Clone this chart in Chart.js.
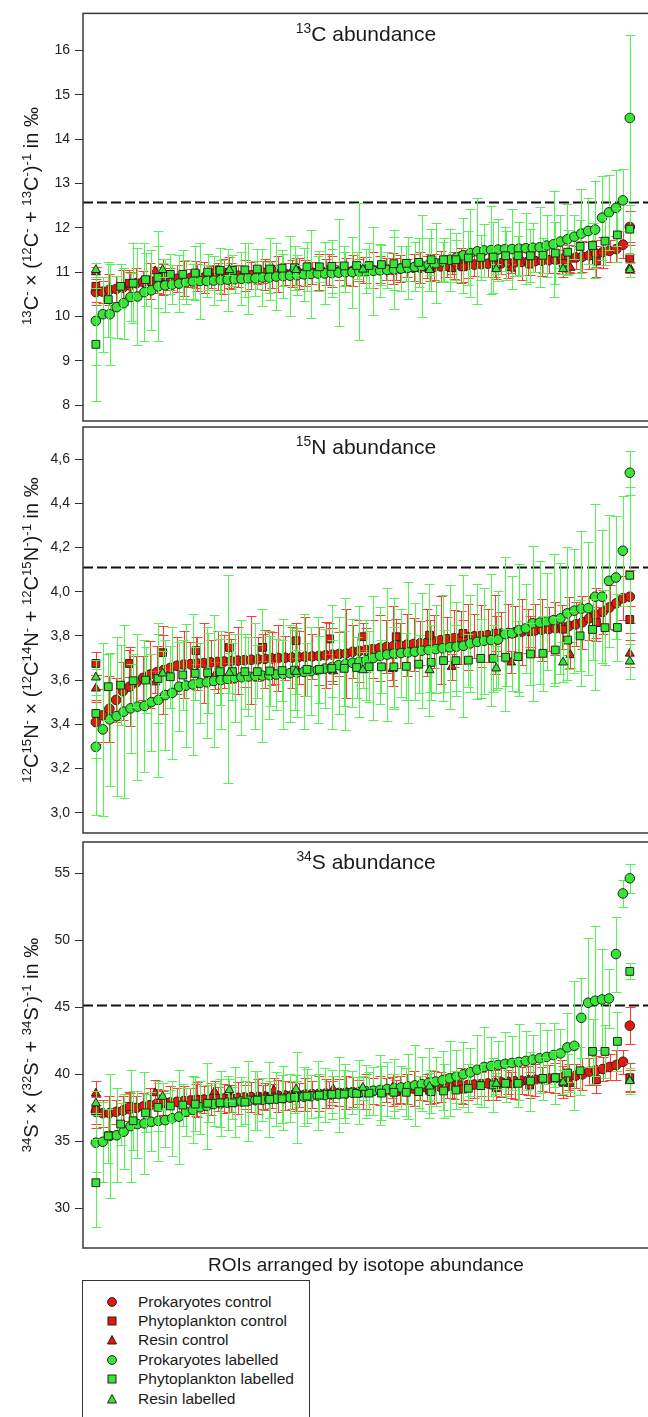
<!DOCTYPE html>
<html>
<head>
<meta charset="utf-8">
<script src="https://cdn.jsdelivr.net/npm/chart.js@4.4.1/dist/chart.umd.min.js"></script>
<style>
  body { margin: 0; background: #fff; }
  #page { position: relative; width: 648px; height: 1417px; overflow: hidden;
          font-family: "Liberation Sans", Arial, sans-serif; color: #1a1a1a; }
  canvas { position: absolute; left: 0; }
  .ptitle { position: absolute; left: 366px; transform: translateX(-50%);
            font-size: 21px; line-height: 24px; white-space: nowrap; }
  .ytitle { position: absolute; left: 31px; font-size: 20px; line-height: 22px; white-space: nowrap;
            transform: translate(-50%, -50%) rotate(-90deg); }
  sup { font-size: 0.66em; position: relative; top: -0.55em; vertical-align: baseline; line-height: 0; }
  #xtitle { position: absolute; left: 366px; top: 1253px; transform: translateX(-50%);
            font-size: 19px; line-height: 24px; white-space: nowrap; }
  #legend { position: absolute; left: 82px; top: 1280px; width: 228px; height: 150px;
            border: 1px solid #333; padding-top: 11px; box-sizing: border-box; }
  .item { display: flex; align-items: center; height: 19.4px; font-size: 15.5px; }
  .item svg { margin-left: 23px; margin-right: 20px; }
</style>
</head>
<body>
<div id="page">
  <canvas id="cC" width="660" height="436" style="top:0px"></canvas>
  <canvas id="cN" width="660" height="436" style="top:412px"></canvas>
  <canvas id="cS" width="660" height="436" style="top:827px"></canvas>

  <div class="ptitle" style="top:22px"><sup>13</sup>C abundance</div>
  <div class="ptitle" style="top:435px"><sup>15</sup>N abundance</div>
  <div class="ptitle" style="top:850px"><sup>34</sup>S abundance</div>

  <div class="ytitle" style="top:216px"><sup>13</sup>C<sup>-</sup> × (<sup>12</sup>C<sup>-</sup> + <sup>13</sup>C<sup>-</sup>)<sup>-1</sup> in ‰</div>
  <div class="ytitle" style="top:630px"><sup>12</sup>C<sup>15</sup>N<sup>-</sup> × (<sup>12</sup>C<sup>14</sup>N<sup>-</sup> + <sup>12</sup>C<sup>15</sup>N<sup>-</sup>)<sup>-1</sup> in ‰</div>
  <div class="ytitle" style="top:1045px"><sup>34</sup>S<sup>-</sup> × (<sup>32</sup>S<sup>-</sup> + <sup>34</sup>S<sup>-</sup>)<sup>-1</sup> in ‰</div>

  <div id="xtitle">ROIs arranged by isotope abundance</div>
  <div id="legend"></div>
</div>

<script>
// ---- data (x = rank of the ROI within its group) ----
const SERIES_LABELS = ["Prokaryotes control", "Phytoplankton control", "Resin control",
                       "Prokaryotes labelled", "Phytoplankton labelled", "Resin labelled"];

// 13C panel
const C_TICKS = [8, 9, 10, 11, 12, 13, 14, 15, 16];
const C_REF = 12.58;
const C_RC = [10.55,10.56,10.6,10.62,10.65,10.7,10.75,10.78,10.8,10.82,
  10.83,10.84,10.85,10.86,10.87,10.88,10.88,10.89,10.9,10.9,
  10.91,10.92,10.92,10.93,10.94,10.94,10.95,10.96,10.96,10.97,
  10.98,10.98,10.99,11.0,11.0,11.01,11.02,11.02,11.03,11.04,
  11.05,11.05,11.06,11.07,11.08,11.08,11.09,11.1,11.1,11.11,
  11.12,11.13,11.14,11.15,11.15,11.16,11.17,11.18,11.19,11.2,
  11.2,11.21,11.22,11.23,11.24,11.25,11.26,11.27,11.28,11.3,
  11.31,11.33,11.35,11.38,11.42,11.45,11.48,11.52,11.62,12.02];
const C_RC_ERR = [0.3,0.25,0.35,0.3,0.4,0.3,0.35,0.25,0.4,0.3,
  0.35,0.25,0.3,0.4,0.2,0.3,0.35,0.25,0.3,0.4,
  0.3,0.25,0.35,0.3,0.2,0.35,0.3,0.4,0.25,0.3,
  0.35,0.3,0.25,0.4,0.3,0.35,0.2,0.3,0.35,0.25,
  0.3,0.4,0.3,0.25,0.35,0.3,0.2,0.3,0.35,0.25,
  0.3,0.35,0.25,0.3,0.4,0.3,0.25,0.35,0.3,0.3,
  0.25,0.35,0.3,0.4,0.3,0.25,0.35,0.3,0.3,0.35,
  0.3,0.25,0.35,0.3,0.3,0.35,0.25,0.3,0.3,0.35];
const C_RS = [10.68,10.75,10.9,10.95,11.0,11.0,11.02,11.05,11.05,11.08,11.1,11.12,11.15,11.18,11.2,11.25,11.32];
const C_RS_ERR = [0.35,0.3,0.4,0.3,0.35,0.25,0.3,0.35,0.3,0.25,0.3,0.35,0.3,0.25,0.3,0.35,0.3];
const C_RT = [11.0,11.02,11.03,11.05,11.05,11.06,11.07,11.08,11.1,11.1];
const C_RT_ERR = [0.12,0.1,0.12,0.1,0.12,0.1,0.12,0.1,0.12,0.12];
const C_GC = [9.9,10.05,10.05,10.21,10.3,10.44,10.45,10.55,10.59,10.68,
  10.7,10.72,10.74,10.77,10.79,10.8,10.8,10.81,10.82,10.83,
  10.84,10.85,10.86,10.86,10.88,10.88,10.9,10.91,10.92,10.93,
  10.95,10.96,10.97,10.97,10.98,10.99,11.0,11.0,11.01,11.02,
  11.03,11.04,11.05,11.06,11.08,11.1,11.12,11.14,11.17,11.2,
  11.24,11.28,11.33,11.38,11.43,11.47,11.49,11.5,11.51,11.52,
  11.52,11.53,11.54,11.55,11.56,11.6,11.63,11.69,11.74,11.8,
  11.87,11.93,11.96,12.23,12.35,12.45,12.62,14.48];
const C_GC_ERR = [1.0,0.85,1.14,0.7,0.8,0.55,1.1,1.1,0.9,1.24,
  0.6,0.45,0.65,0.5,0.4,0.85,0.35,0.55,0.45,0.7,
  0.3,0.6,0.8,0.4,0.65,0.35,0.75,0.5,0.9,0.45,
  0.6,1.0,0.4,0.7,0.55,1.2,0.45,0.8,1.55,0.5,
  1.0,0.6,0.4,0.9,0.5,0.7,0.55,1.15,0.6,0.9,
  0.45,0.7,0.55,0.85,1.0,1.2,0.6,1.0,0.7,0.5,
  0.9,0.6,0.8,0.55,0.9,0.7,1.2,0.6,0.8,0.5,
  1.0,0.75,1.1,0.95,0.85,0.85,0.7,1.87];
const C_GS = [9.37,10.38,10.68,10.75,10.83,10.88,10.95,10.95,10.98,11.0,
  11.04,11.04,11.05,11.07,11.07,11.09,11.1,11.12,11.12,11.13,
  11.14,11.15,11.15,11.17,11.19,11.2,11.22,11.28,11.28,11.28,
  11.32,11.33,11.34,11.37,11.37,11.37,11.38,11.43,11.45,11.58,
  11.6,11.7,11.84,11.97];
const C_GS_ERR = [1.27,0.85,0.5,0.9,0.6,0.7,0.45,0.55,0.6,0.4,
  0.5,0.35,0.6,0.45,0.7,0.4,0.5,0.55,0.35,0.6,
  0.45,0.3,0.5,0.45,0.6,0.4,0.55,0.7,0.5,0.45,
  0.6,0.5,0.8,0.55,0.45,0.6,0.4,0.7,0.5,0.6,
  0.5,0.55,0.6,0.55];
const C_GT = [11.05,11.05,11.05,11.05,11.06,11.05,11.07,11.07,11.05];
const C_GT_ERR = [0.15,0.15,0.12,0.12,0.15,0.12,0.12,0.12,0.15];

// 15N panel
const N_TICKS = [3.0, 3.2, 3.4, 3.6, 3.8, 4.0, 4.2, 4.4, 4.6];
const N_REF = 4.11;
const N_RC = [3.41,3.44,3.47,3.51,3.55,3.57,3.59,3.61,3.625,3.635,
  3.645,3.655,3.665,3.67,3.672,3.675,3.677,3.68,3.682,3.684,
  3.686,3.688,3.69,3.692,3.694,3.696,3.698,3.7,3.701,3.702,
  3.704,3.706,3.707,3.709,3.712,3.715,3.718,3.72,3.728,3.732,
  3.736,3.74,3.745,3.75,3.753,3.756,3.76,3.763,3.766,3.77,
  3.775,3.78,3.785,3.789,3.792,3.795,3.798,3.8,3.803,3.806,
  3.81,3.813,3.816,3.819,3.822,3.825,3.828,3.831,3.834,3.84,
  3.845,3.852,3.862,3.88,3.895,3.909,3.929,3.947,3.97,3.977];
const N_RC_ERR = [0.1,0.12,0.15,0.1,0.13,0.18,0.12,0.1,0.15,0.12,
  0.2,0.1,0.13,0.15,0.1,0.12,0.18,0.1,0.14,0.12,
  0.1,0.15,0.12,0.2,0.1,0.13,0.12,0.15,0.1,0.14,
  0.12,0.18,0.1,0.13,0.15,0.12,0.1,0.2,0.12,0.14,
  0.1,0.13,0.15,0.12,0.18,0.1,0.14,0.12,0.1,0.15,
  0.12,0.2,0.1,0.13,0.12,0.15,0.1,0.14,0.12,0.18,
  0.1,0.13,0.12,0.15,0.1,0.12,0.14,0.1,0.12,0.1,
  0.13,0.1,0.12,0.1,0.12,0.1,0.1,0.12,0.1,0.12];
const N_RS = [3.675,3.675,3.724,3.733,3.748,3.748,3.778,3.786,3.796,3.796,3.803,3.811,3.812,3.82,3.83,3.86,3.874];
const N_RS_ERR = [0.05,0.06,0.08,0.06,0.07,0.06,0.08,0.07,0.06,0.08,0.07,0.06,0.08,0.07,0.06,0.07,0.06];
const N_RT = [3.562,3.59,3.62,3.63,3.64,3.65,3.66,3.68,3.713,3.72];
const N_RT_ERR = [0.06,0.05,0.06,0.05,0.06,0.05,0.06,0.05,0.06,0.06];
const N_GC = [3.298,3.377,3.422,3.437,3.457,3.472,3.48,3.483,3.5,3.51,
  3.532,3.542,3.57,3.575,3.58,3.587,3.59,3.596,3.6,3.605,
  3.61,3.613,3.616,3.618,3.62,3.622,3.625,3.628,3.631,3.634,
  3.637,3.64,3.645,3.652,3.658,3.667,3.673,3.678,3.683,3.69,
  3.7,3.71,3.715,3.72,3.722,3.725,3.728,3.733,3.736,3.74,
  3.744,3.748,3.751,3.755,3.766,3.773,3.778,3.781,3.783,3.808,
  3.811,3.826,3.834,3.857,3.86,3.865,3.871,3.879,3.902,3.914,
  3.923,3.925,3.977,3.977,4.049,4.064,4.185,4.538];
const N_GC_ERR = [0.31,0.39,0.3,0.36,0.39,0.2,0.33,0.3,0.22,0.35,
  0.25,0.3,0.2,0.28,0.32,0.18,0.25,0.3,0.22,0.47,
  0.2,0.26,0.18,0.24,0.3,0.2,0.16,0.25,0.22,0.2,
  0.26,0.2,0.24,0.18,0.28,0.22,0.3,0.2,0.25,0.18,
  0.28,0.22,0.3,0.25,0.2,0.32,0.22,0.26,0.3,0.2,
  0.24,0.28,0.2,0.32,0.22,0.26,0.24,0.3,0.22,0.35,
  0.26,0.3,0.2,0.35,0.28,0.22,0.3,0.25,0.3,0.28,
  0.35,0.3,0.42,0.3,0.3,0.28,0.25,0.1];
const N_GS = [3.449,3.57,3.577,3.597,3.6,3.607,3.615,3.623,3.63,3.633,
  3.638,3.638,3.638,3.638,3.641,3.643,3.645,3.648,3.648,3.653,
  3.653,3.657,3.66,3.66,3.66,3.662,3.672,3.68,3.688,3.688,
  3.69,3.698,3.698,3.703,3.706,3.718,3.721,3.736,3.781,3.8,
  3.829,3.837,3.838,4.074];
const N_GS_ERR = [0.2,0.15,0.18,0.12,0.15,0.2,0.14,0.16,0.12,0.18,
  0.15,0.13,0.17,0.12,0.16,0.14,0.18,0.12,0.15,0.13,
  0.17,0.14,0.16,0.12,0.18,0.15,0.13,0.17,0.14,0.16,
  0.12,0.18,0.15,0.13,0.16,0.14,0.17,0.15,0.13,0.16,
  0.14,0.17,0.15,0.4];
const N_GT = [3.612,3.63,3.633,3.638,3.645,3.645,3.653,3.68,3.685];
const N_GT_ERR = [0.08,0.1,0.09,0.1,0.08,0.1,0.1,0.09,0.08];

// 34S panel
const S_TICKS = [30, 35, 40, 45, 50, 55];
const S_REF = 45.2;
const S_RC = [37.2,37.1,37.1,37.2,37.3,37.4,37.5,37.6,37.7,37.8,
  37.85,37.9,37.95,38.0,38.05,38.1,38.12,38.15,38.18,38.2,
  38.22,38.25,38.28,38.3,38.32,38.35,38.37,38.4,38.42,38.45,
  38.47,38.5,38.52,38.55,38.57,38.6,38.62,38.65,38.67,38.7,
  38.72,38.75,38.78,38.8,38.83,38.86,38.9,38.93,38.96,39.0,
  39.03,39.06,39.1,39.13,39.17,39.2,39.24,39.28,39.32,39.36,
  39.4,39.44,39.48,39.52,39.56,39.6,39.64,39.68,39.72,39.76,
  39.8,39.9,40.0,40.2,40.3,40.4,40.55,40.7,40.94,43.63];
const S_RC_ERR = [1.2,1.0,1.3,0.9,1.1,1.2,0.9,1.0,1.3,1.1,
  0.9,1.2,1.0,1.1,0.9,1.3,1.0,1.2,0.9,1.1,
  1.0,1.2,0.9,1.1,1.3,1.0,0.9,1.2,1.1,1.0,
  0.9,1.2,1.0,1.3,1.1,0.9,1.0,1.2,1.1,0.9,
  1.3,1.0,1.1,0.9,1.2,1.0,1.1,1.3,0.9,1.0,
  1.2,1.1,0.9,1.0,1.3,1.1,1.0,0.9,1.2,1.0,
  1.1,0.9,1.3,1.0,1.1,1.2,0.9,1.0,1.1,1.3,
  1.0,0.9,1.2,1.0,1.1,0.9,1.0,1.1,0.9,1.4];
const S_RS = [37.3,37.6,37.9,38.1,38.2,38.3,38.4,38.5,38.6,38.7,38.8,38.9,39.0,39.2,39.4,39.6,39.75];
const S_RS_ERR = [1.0,1.1,0.9,1.2,1.0,0.9,1.1,1.0,1.2,0.9,1.0,1.1,0.9,1.0,1.2,1.0,1.1];
const S_RT = [38.58,38.6,38.7,38.8,38.9,39.0,39.1,39.2,39.3,39.55];
const S_RT_ERR = [0.9,1.0,0.8,0.9,1.0,0.8,0.9,1.0,0.9,0.8];
const S_GC = [34.9,34.97,35.4,35.45,35.72,36.14,36.29,36.34,36.46,36.53,
  36.58,36.72,36.84,37.21,37.34,37.54,37.64,37.78,37.83,37.88,
  37.93,37.98,38.03,38.07,38.1,38.14,38.18,38.22,38.26,38.3,
  38.33,38.37,38.41,38.45,38.49,38.53,38.58,38.62,38.67,38.72,
  38.78,38.84,38.9,38.96,39.02,39.1,39.18,39.27,39.36,39.46,
  39.56,39.7,39.85,40.0,40.15,40.35,40.55,40.62,40.7,40.78,
  40.85,40.92,41.0,41.1,41.2,41.3,41.44,41.56,42.01,42.13,
  44.22,45.34,45.49,45.59,45.66,48.98,53.5,54.63];
const S_GC_ERR = [2.2,3.0,4.6,3.5,2.8,4.2,2.5,3.8,2.2,3.0,
  2.0,2.8,3.5,1.8,2.5,2.0,3.2,1.6,2.4,2.0,
  2.6,1.8,3.0,2.2,1.6,2.8,2.0,2.4,1.8,3.4,
  2.2,1.6,2.6,2.0,1.8,2.8,2.2,1.6,2.4,2.0,
  1.8,2.6,2.0,2.2,1.6,2.4,3.0,2.0,2.6,1.8,
  2.2,2.8,2.0,2.4,1.8,2.6,3.0,2.2,1.8,2.4,
  2.0,2.8,2.2,1.8,2.6,2.0,2.4,1.8,2.6,4.8,
  3.0,4.8,5.6,3.8,2.2,2.8,1.0,1.1];
const S_GS = [31.91,35.4,36.29,36.54,37.13,37.54,37.64,37.71,37.78,37.84,
  37.88,37.88,37.93,38.08,38.13,38.18,38.28,38.38,38.45,38.5,
  38.53,38.58,38.6,38.6,38.66,38.66,38.71,38.71,38.76,38.83,
  38.96,39.16,39.21,39.33,39.33,39.5,39.7,39.75,40.1,40.27,
  41.71,41.71,42.46,47.68];
const S_GS_ERR = [3.3,2.0,1.6,2.2,1.4,1.8,1.2,1.6,2.0,1.4,
  1.8,1.2,1.6,2.2,1.4,1.8,1.2,2.0,1.6,1.4,
  1.8,1.2,1.6,2.0,1.4,1.8,1.2,1.6,2.0,1.4,
  1.8,1.6,2.0,1.4,1.8,2.2,1.6,2.0,1.4,1.8,
  2.4,2.0,2.2,0.6];
const S_GT = [37.84,38.33,38.83,38.88,39.0,39.1,39.3,39.4,39.5];
const S_GT_ERR = [0.9,1.0,0.8,1.1,0.9,1.0,0.8,0.9,1.0];

// ---- styles ----
const RED = "#e8150f", GREEN = "#35e635", EDGE = "#222222";
const RED_BAR = "#ff3a3a", GREEN_BAR = "#58ef58";
const STYLES = [
  { pointStyle: "circle",   fill: RED,   bar: RED_BAR,   radius: 4.8, order: 6 },
  { pointStyle: "rect",     fill: RED,   bar: RED_BAR,   radius: 5.5, order: 5 },
  { pointStyle: "triangle", fill: RED,   bar: RED_BAR,   radius: 5.2, order: 4 },
  { pointStyle: "circle",   fill: GREEN, bar: GREEN_BAR, radius: 4.8, order: 3 },
  { pointStyle: "rect",     fill: GREEN, bar: GREEN_BAR, radius: 5.5, order: 2 },
  { pointStyle: "triangle", fill: GREEN, bar: GREEN_BAR, radius: 5.2, order: 1 }
];

// rank position of each ROI inside its group, spread over 0..1
function ranked(vals) {
  return vals.map((v, i) => ({ x: i / (vals.length - 1), y: v }));
}

function makeDatasets(groups) {
  return groups.map(([vals, errs], k) => ({
    label: SERIES_LABELS[k],
    data: ranked(vals),
    errors: errs,
    barColor: STYLES[k].bar,
    pointStyle: STYLES[k].pointStyle,
    pointRadius: STYLES[k].radius,
    backgroundColor: STYLES[k].fill,
    borderColor: EDGE,
    borderWidth: 1,
    showLine: false,
    order: STYLES[k].order
  }));
}

// error bars drawn under each dataset's own markers
const errorBars = {
  id: "errorBars",
  beforeDatasetDraw(chart, args) {
    const ds = chart.data.datasets[args.index];
    if (!ds.errors) return;
    const y = chart.scales.y, a = chart.chartArea, ctx = chart.ctx;
    ctx.save();
    ctx.beginPath();
    ctx.rect(a.left, a.top, a.right - a.left, a.bottom - a.top);
    ctx.clip();
    ctx.strokeStyle = ds.barColor;
    ctx.lineWidth = 1.1;
    ctx.beginPath();
    args.meta.data.forEach((pt, i) => {
      const v = ds.data[i].y, e = ds.errors[i];
      const x = Math.round(pt.x) + 0.5;
      const t = Math.round(y.getPixelForValue(v + e)) + 0.5;
      const b = Math.round(y.getPixelForValue(v - e)) + 0.5;
      ctx.moveTo(x, t); ctx.lineTo(x, b);
      ctx.moveTo(x - 5, t); ctx.lineTo(x + 5, t);
      ctx.moveTo(x - 5, b); ctx.lineTo(x + 5, b);
    });
    ctx.stroke();
    ctx.restore();
  }
};

// dashed reference line + panel frame
const frame = {
  id: "frame",
  beforeDatasetsDraw(chart, args, opts) {
    const a = chart.chartArea, ctx = chart.ctx;
    const yy = Math.round(chart.scales.y.getPixelForValue(opts.ref)) + 0.5;
    ctx.save();
    ctx.strokeStyle = "#111";
    ctx.lineWidth = 1.8;
    ctx.setLineDash([10, 4]);
    ctx.beginPath();
    ctx.moveTo(a.left, yy);
    ctx.lineTo(a.right, yy);
    ctx.stroke();
    ctx.restore();
  },
  afterDraw(chart) {
    const a = chart.chartArea, ctx = chart.ctx;
    ctx.save();
    ctx.strokeStyle = "#3a3a3a";
    ctx.lineWidth = 1.5;
    ctx.strokeRect(a.left, a.top, a.right - a.left, a.bottom - a.top);
    ctx.restore();
  }
};

const X_MIN = -0.0241, X_MAX = 1.0444;

function panel(id, groups, ticks, yMin, yMax, ref, fmt, padTop) {
  return new Chart(document.getElementById(id), {
    type: "scatter",
    data: { datasets: makeDatasets(groups) },
    options: {
      responsive: false,
      animation: false,
      events: [],
      layout: { padding: { top: padTop, bottom: 15, left: 0, right: 0 } },
      plugins: { legend: { display: false }, tooltip: { enabled: false }, frame: { ref: ref } },
      scales: {
        x: { type: "linear", display: false, min: X_MIN, max: X_MAX },
        y: {
          min: yMin, max: yMax,
          afterFit(scale) { scale.width = 83; },
          afterBuildTicks(scale) { scale.ticks = ticks.map(v => ({ value: v })); },
          border: { display: false },
          grid: { drawOnChartArea: false, drawTicks: true, tickLength: 8, color: "#333", lineWidth: 1 },
          ticks: {
            padding: 5, color: "#222", autoSkip: false,
            font: { family: "'Liberation Sans', Arial, sans-serif", size: 14 },
            callback: v => fmt(v)
          }
        }
      }
    },
    plugins: [errorBars, frame]
  });
}

const chartC = panel("cC",
  [[C_RC, C_RC_ERR], [C_RS, C_RS_ERR], [C_RT, C_RT_ERR], [C_GC, C_GC_ERR], [C_GS, C_GS_ERR], [C_GT, C_GT_ERR]],
  C_TICKS, 7.64, 16.84, C_REF, v => String(v), 12);
const chartN = panel("cN",
  [[N_RC, N_RC_ERR], [N_RS, N_RS_ERR], [N_RT, N_RT_ERR], [N_GC, N_GC_ERR], [N_GS, N_GS_ERR], [N_GT, N_GT_ERR]],
  N_TICKS, 2.908, 4.745, N_REF, v => v.toFixed(1).replace(".", ","), 15);
const chartS = panel("cS",
  [[S_RC, S_RC_ERR], [S_RS, S_RS_ERR], [S_RT, S_RT_ERR], [S_GC, S_GC_ERR], [S_GS, S_GS_ERR], [S_GT, S_GT_ERR]],
  S_TICKS, 27.04, 57.34, S_REF, v => String(v), 15);

// legend built from the last panel's datasets
function markerSvg(ds) {
  const attr = `fill="${ds.backgroundColor}" stroke="${ds.borderColor}" stroke-width="1"`;
  let shape;
  if (ds.pointStyle === "circle") shape = `<circle cx="6" cy="6" r="4.4" ${attr}/>`;
  else if (ds.pointStyle === "rect") shape = `<rect x="2" y="2" width="8" height="8" ${attr}/>`;
  else shape = `<polygon points="6,1.5 10.5,10 1.5,10" ${attr}/>`;
  return `<svg width="12" height="12" viewBox="0 0 12 12">${shape}</svg>`;
}
document.getElementById("legend").innerHTML = chartS.data.datasets
  .map(ds => `<div class="item">${markerSvg(ds)}<span>${ds.label}</span></div>`)
  .join("");
</script>
</body>
</html>
